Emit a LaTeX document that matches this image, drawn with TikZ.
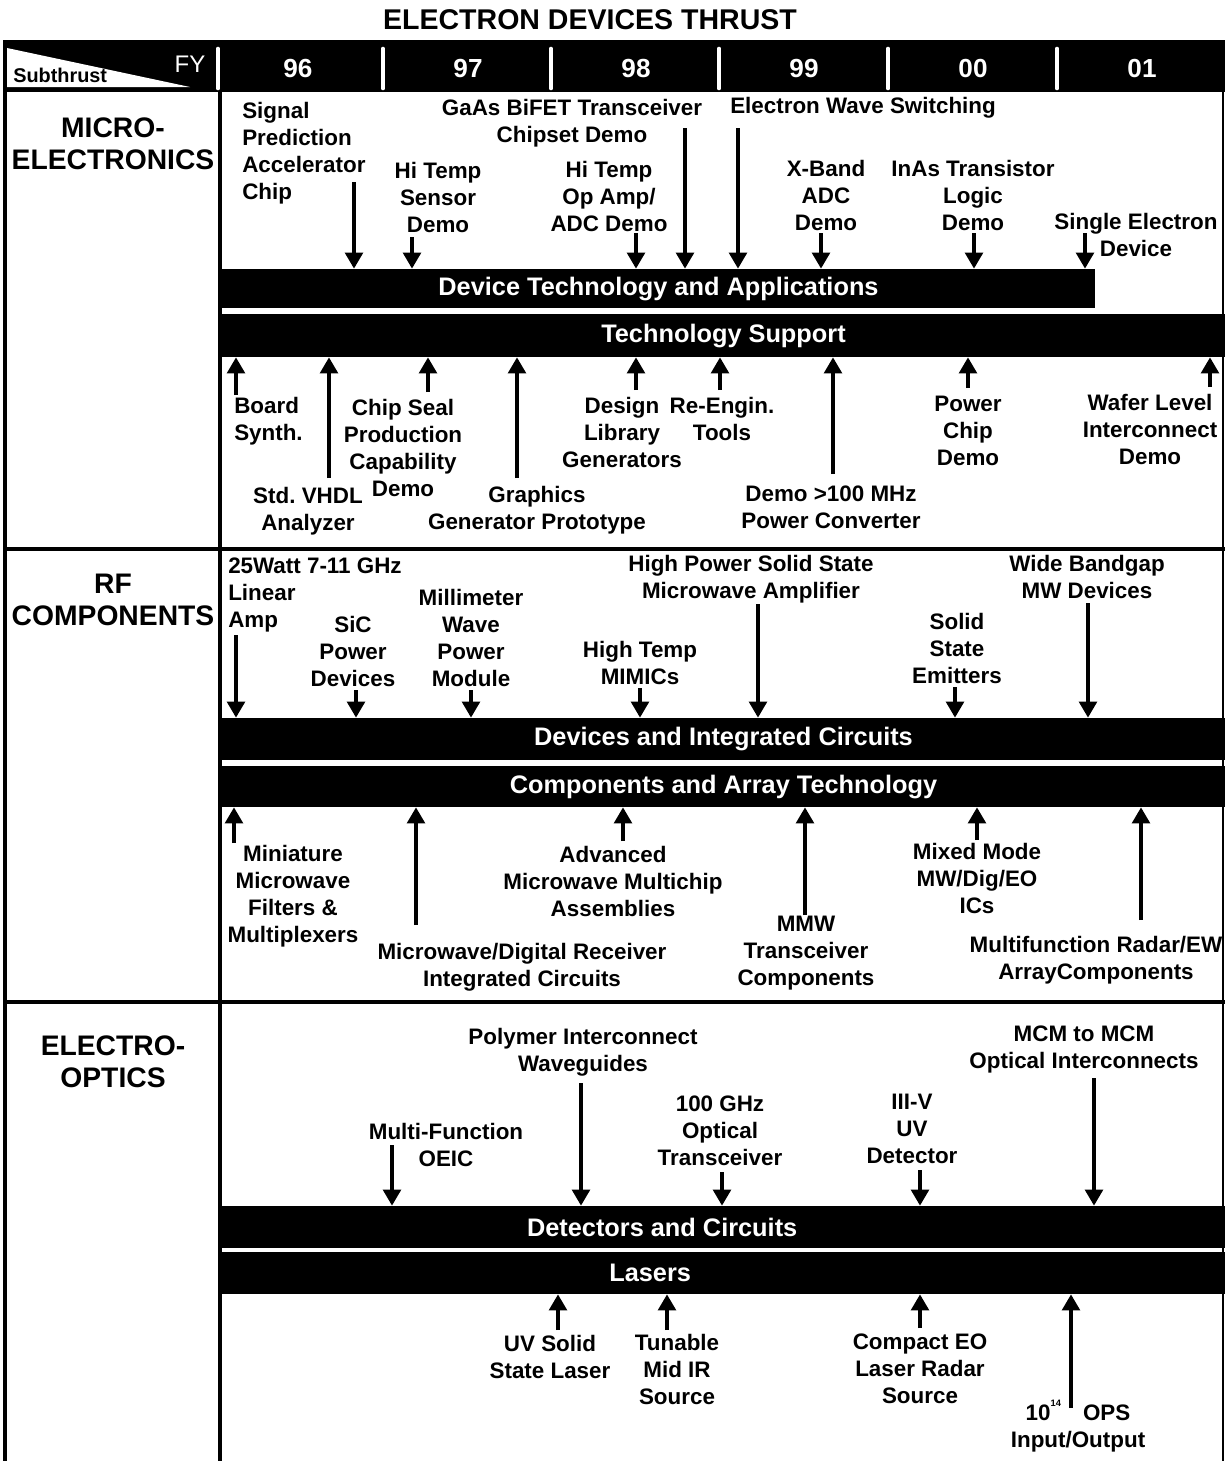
\documentclass[tikz,border=0pt]{standalone}
\usepackage{fontspec}
\setmainfont{Liberation Sans}
\usetikzlibrary{arrows.meta}
\frenchspacing
\begin{document}
\begin{tikzpicture}[x=0.75pt,y=-0.75pt,
 lbl/.style={font=\bfseries\fontsize{16.8}{20.25}\selectfont, align=center, inner sep=0pt},
 lbll/.style={lbl, align=left, anchor=west},
 sec/.style={font=\bfseries\fontsize{21.2}{24}\selectfont, align=center, inner sep=0pt},
 band/.style={fill=black, text=white, inner sep=0pt, font=\bfseries\fontsize{19}{22}\selectfont},
 arr/.style={line width=3.5pt, -{Triangle[width=13pt,length=12pt]}},
 yr/.style={text=white, inner sep=0pt, font=\bfseries\fontsize{19.6}{22}\selectfont},
 frame/.style={line width=3pt},
]
\useasboundingbox (0,0) rectangle (1225,1461);
% title
\node[inner sep=0pt, font=\bfseries\fontsize{21.4}{24}\selectfont] (title) at (590,20) {ELECTRON DEVICES THRUST};
% header bar
\fill (3,40) rectangle (1225,92);
\fill[white] (7,48) -- (7,87) -- (190,87) -- cycle;
\node[inner sep=0pt, anchor=west, font=\bfseries\fontsize{14.9}{16}\selectfont] (sub) at (13,75) {Subthrust};
\node[inner sep=0pt, text=white, font=\fontsize{18}{19}\selectfont] (fy) at (190,64) {FY};
\foreach \x in {218,383,551,719,888,1057}
  \draw[white, line width=3.5pt, line cap=round] (\x,49) -- (\x,88);
\node[yr] (y96) at (298,68) {96};
\node[yr] (y97) at (468,68) {97};
\node[yr] (y98) at (636,68) {98};
\node[yr] (y99) at (804,68) {99};
\node[yr] (y00) at (973,68) {00};
\node[yr] (y01) at (1142,68) {01};
% frame
\draw[frame] (5,40) -- (5,1461);
\draw[frame] (220,92) -- (220,1461);
\draw[frame] (5,549) -- (1225,549);
\draw[frame] (5,1002) -- (1225,1002);
\draw[line width=1.5pt] (1223,92) -- (1223,1461);
% section titles
\node[sec] (me) at (113,144) {MICRO-\\ELECTRONICS};
\node[sec] (rf) at (113,600) {RF\\COMPONENTS};
\node[sec] (eo) at (113,1062) {ELECTRO-\\OPTICS};
% bands
\node[band, minimum width=654.75pt, minimum height=29.25pt] (dta) at (658.5,288.5) {Device Technology and Applications};
\node[band, minimum width=752.25pt, minimum height=32.25pt] (ts) at (723.5,335.5) {Technology Support};
\node[band, minimum width=752.25pt, minimum height=31.5pt] (dic) at (723.5,739) {Devices and Integrated Circuits};
\node[band, minimum width=752.25pt, minimum height=30.75pt] (cat) at (723.5,786.5) {Components and Array Technology};
\node[band, minimum width=752.25pt, minimum height=31.5pt] (detc) at (723.5,1227) {Detectors and Circuits\rule{92pt}{0pt}};
\node[band, minimum width=752.25pt, minimum height=31.5pt] (las) at (723.5,1273) {Lasers\rule{110pt}{0pt}};

% ---------------- Microelectronics, top
\node[lbll] (m1) at (242,153.5) {Signal\\Prediction\\Accelerator\\Chip};
\node[lbl] (m2) at (572,123.5) {GaAs BiFET Transceiver\\Chipset Demo};
\node[lbll] (m3) at (730,108) {Electron Wave Switching};
\node[lbl] (m4) at (438,197) {Hi Temp\\Sensor\\Demo};
\node[lbl] (m5) at (609,196.5) {Hi Temp\\Op Amp/\\ADC Demo};
\node[lbl] (m6) at (826,195.5) {X-Band\\ADC\\Demo};
\node[lbl] (m7) at (973,195.5) {InAs Transistor\\Logic\\Demo};
\node[lbl] (m8) at (1136,234.5) {Single Electron\\Device};
\coordinate (am1) at (354,182);
\coordinate (am4) at (412,237);
\coordinate (am5) at (636,233);
\coordinate (am2) at (685,128);
\coordinate (am3) at (738,128);
\coordinate (am6) at (821,233);
\coordinate (am7) at (974,233);
\coordinate (am8) at (1085,233);
\foreach \a in {am1,am2,am3,am4,am5,am6,am7,am8}
  \draw[arr] (\a) -- (\a |- dta.north);

% ---------------- Microelectronics, bottom
\node[lbll] (b1) at (234,421.5) {Board\\Synth.};
\node[lbl] (b2) at (308,511) {Std. VHDL\\Analyzer};
\node[lbl] (b3) at (403,448) {Chip Seal\\Production\\Capability\\Demo};
\node[lbl] (b4) at (537,510) {Graphics\\Generator Prototype};
\node[lbl] (b5) at (622,432.5) {Design\\Library\\Generators};
\node[lbl] (b6) at (722,419) {Re-Engin.\\Tools};
\node[lbl] (b7) at (831,507) {Demo >100 MHz\\Power Converter};
\node[lbl] (b8) at (968,430.5) {Power\\Chip\\Demo};
\node[lbl] (b9) at (1150,429.5) {Wafer Level\\Interconnect\\Demo};
\coordinate (ab1) at (236,395);
\coordinate (ab2) at (329,478);
\coordinate (ab3) at (428,392);
\coordinate (ab4) at (517,478);
\coordinate (ab5) at (636,390);
\coordinate (ab6) at (720,390);
\coordinate (ab7) at (833,474);
\coordinate (ab8) at (968,388);
\coordinate (ab9) at (1210,387);
\foreach \a in {ab1,ab2,ab3,ab4,ab5,ab6,ab7,ab8,ab9}
  \draw[arr] (\a) -- (\a |- ts.south);

% ---------------- RF, top
\node[lbll] (r1) at (228,595) {25Watt 7-11 GHz\\Linear\\Amp};
\node[lbl] (r2) at (353,651.5) {SiC\\Power\\Devices};
\node[lbl] (r3) at (471,637.5) {Millimeter\\Wave\\Power\\Module};
\node[lbl] (r4) at (640,663) {High Temp\\MIMICs};
\node[lbl] (r5) at (751,579) {High Power Solid State\\Microwave Amplifier};
\node[lbl] (r6) at (957,648) {Solid\\State\\Emitters};
\node[lbl] (r7) at (1087,576.5) {Wide Bandgap\\MW Devices};
\coordinate (ar1) at (236,635);
\coordinate (ar2) at (356,690);
\coordinate (ar3) at (471,690);
\coordinate (ar4) at (640,688);
\coordinate (ar5) at (758,604);
\coordinate (ar6) at (955,687);
\coordinate (ar7) at (1088,603);
\foreach \a in {ar1,ar2,ar3,ar4,ar5,ar6,ar7}
  \draw[arr] (\a) -- (\a |- dic.north);

% ---------------- RF, bottom
\node[lbl] (c1) at (293,896) {Miniature\\Microwave\\Filters \&\\Multiplexers};
\node[lbl] (c2) at (522,967) {Microwave/Digital Receiver\\Integrated Circuits};
\node[lbl] (c3) at (613,881) {Advanced\\Microwave Multichip\\Assemblies};
\node[lbl] (c4) at (806,953) {MMW\\Transceiver\\Components};
\node[lbl] (c5) at (977,878.5) {Mixed Mode\\MW/Dig/EO\\ICs};
\node[lbl] (c6) at (1096,960) {Multifunction Radar/EW\\ArrayComponents};
\coordinate (ac1) at (234,843);
\coordinate (ac2) at (416,925);
\coordinate (ac3) at (623,841);
\coordinate (ac4) at (805,915);
\coordinate (ac5) at (977,840);
\coordinate (ac6) at (1141,920);
\foreach \a in {ac1,ac2,ac3,ac4,ac5,ac6}
  \draw[arr] (\a) -- (\a |- cat.south);

% ---------------- Electro-optics, top
\node[lbl] (e1) at (446,1145) {Multi-Function\\OEIC};
\node[lbl] (e2) at (583,1052) {Polymer Interconnect\\Waveguides};
\node[lbl] (e3) at (720,1130.5) {100 GHz\\Optical\\Transceiver};
\node[lbl] (e4) at (912,1128.5) {III-V\\UV\\Detector};
\node[lbl] (e5) at (1084,1049) {MCM to MCM\\Optical Interconnects};
\coordinate (ae1) at (392,1145);
\coordinate (ae2) at (581,1083);
\coordinate (ae3) at (722,1172);
\coordinate (ae4) at (920,1170);
\coordinate (ae5) at (1094,1078);
\foreach \a in {ae1,ae2,ae3,ae4,ae5}
  \draw[arr] (\a) -- (\a |- detc.north);

% ---------------- Electro-optics, bottom
\node[lbl] (f1) at (550,1356.5) {UV Solid\\State Laser};
\node[lbl] (f2) at (677,1369.5) {Tunable\\Mid IR\\Source};
\node[lbl] (f3) at (920,1368.5) {Compact EO\\Laser Radar\\Source};
\node[lbl] (f4) at (1078,1426) {10\raisebox{0.6em}{\fontsize{7}{7}\selectfont 14}\hspace{16.5pt}OPS\\Input/Output};
\coordinate (af1) at (558,1330);
\coordinate (af2) at (667,1330);
\coordinate (af3) at (920,1328);
\coordinate (af4) at (1071,1408);
\foreach \a in {af1,af2,af3,af4}
  \draw[arr] (\a) -- (\a |- las.south);
\end{tikzpicture}
\end{document}
